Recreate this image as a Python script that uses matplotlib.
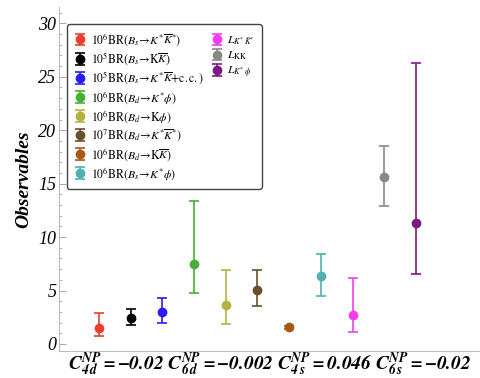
import matplotlib
matplotlib.use("Agg")
import matplotlib.pyplot as plt
from matplotlib.ticker import MultipleLocator
from matplotlib.lines import Line2D

plt.rcParams['font.family'] = ['Liberation Serif', 'DejaVu Serif']
plt.rcParams['mathtext.fontset'] = 'stix'

labels = [
    r"$10^6\mathrm{BR}(B_s\!\rightarrow\! K^{*}\overline{K}^{*})$",
    r"$10^5\mathrm{BR}(B_s\!\rightarrow\!\mathrm{K}\overline{K})$",
    r"$10^5\mathrm{BR}(B_s\!\rightarrow\! K^{*}\overline{K}\mathrm{+c.c.})$",
    r"$10^6\mathrm{BR}(B_d\!\rightarrow\! K^{*}\phi)$",
    r"$10^6\mathrm{BR}(B_d\!\rightarrow\!\mathrm{K}\phi)$",
    r"$10^7\mathrm{BR}(B_d\!\rightarrow\! K^{*}\overline{K}^{*})$",
    r"$10^6\mathrm{BR}(B_d\!\rightarrow\!\mathrm{K}\overline{K})$",
    r"$10^6\mathrm{BR}(B_s\!\rightarrow\! K^{*}\phi)$",
    r"$L_{K^{*}\,\bar{K}^{*}}$",
    r"$L_{\mathrm{KK}}$",
    r"$L_{K^{*}\,\phi}$",
]
values = [1.47, 2.40, 2.97, 7.49, 3.65, 5.08, 1.56, 6.36, 2.68, 15.62, 11.35]
upper = [2.93, 3.31, 4.33, 13.40, 6.92, 6.89, 1.70, 8.39, 6.14, 18.56, 26.25]
lower = [0.72, 1.78, 1.99, 4.80, 1.90, 3.59, 1.42, 4.46, 1.15, 12.94, 6.55]
colors = ['#e8402c', '#000000', '#2a1cf0', '#45b035', '#b5b340', '#6a4f2e',
          '#a55a1a', '#4fb0b0', '#f23cf0', '#888888', '#7a1a82']
xlabel_text = (r"$\mathbfit{C}_{\mathbfit{4\,d}}^{\mathbfit{NP}}\mathbfit{=-0.02}\ "
               r"\mathbfit{C}_{\mathbfit{6\,d}}^{\mathbfit{NP}}\mathbfit{=-0.002}\ "
               r"\mathbfit{C}_{\mathbfit{4\,s}}^{\mathbfit{NP}}\mathbfit{=0.046}\ "
               r"\mathbfit{C}_{\mathbfit{6\,s}}^{\mathbfit{NP}}\mathbfit{=-0.02}$")

fig = plt.figure(figsize=(4.81, 3.78), dpi=100)
ax = fig.add_axes([0.1227, 0.0722, 0.8773, 0.9085])

handles = []
for i, (v, u, l, c, lab) in enumerate(zip(values, upper, lower, colors, labels)):
    h = ax.errorbar(i + 1, v, yerr=[[v - l], [u - v]], fmt='o', color=c, ecolor=c,
                    markersize=6, elinewidth=1.2, capsize=3.5, capthick=1.2, label=lab)
    handles.append(h)

ax.set_xlim(-0.26, 13.05)
ax.set_ylim(-0.63, 31.5)
ax.set_xticks([])
ax.yaxis.set_major_locator(MultipleLocator(5))
ax.yaxis.set_minor_locator(MultipleLocator(1))
ax.tick_params(axis='y', which='major', direction='in', length=5, color='#aaaaaa',
               labelsize=13, pad=2)
ax.tick_params(axis='y', which='minor', direction='in', length=2.5, color='#aaaaaa')
for t in ax.get_yticklabels():
    t.set_fontstyle('italic')
for s in ['top', 'right']:
    ax.spines[s].set_visible(False)
for s in ['left', 'bottom']:
    ax.spines[s].set_color('#bbbbbb')
    ax.spines[s].set_linewidth(0.8)

ax.set_ylabel('Observables', fontsize=14, fontweight='bold', fontstyle='italic', labelpad=4)
ax.set_xlabel(xlabel_text, fontsize=14, labelpad=0)

blank = Line2D([], [], linestyle='none', marker=None)
leg_handles = handles + [blank] * 5
leg_labels = labels + [''] * 5
leg = ax.legend(leg_handles, leg_labels, loc='upper left', bbox_to_anchor=(0.005, 0.968),
                ncol=2, fontsize=8.5,
                frameon=True, fancybox=True, edgecolor='#444444', framealpha=1,
                handlelength=1.0, handletextpad=0.4, labelspacing=0.22,
                columnspacing=0.6, borderpad=0.6)
leg.get_frame().set_linewidth(1.0)

fig.savefig('out.png', dpi=100)
